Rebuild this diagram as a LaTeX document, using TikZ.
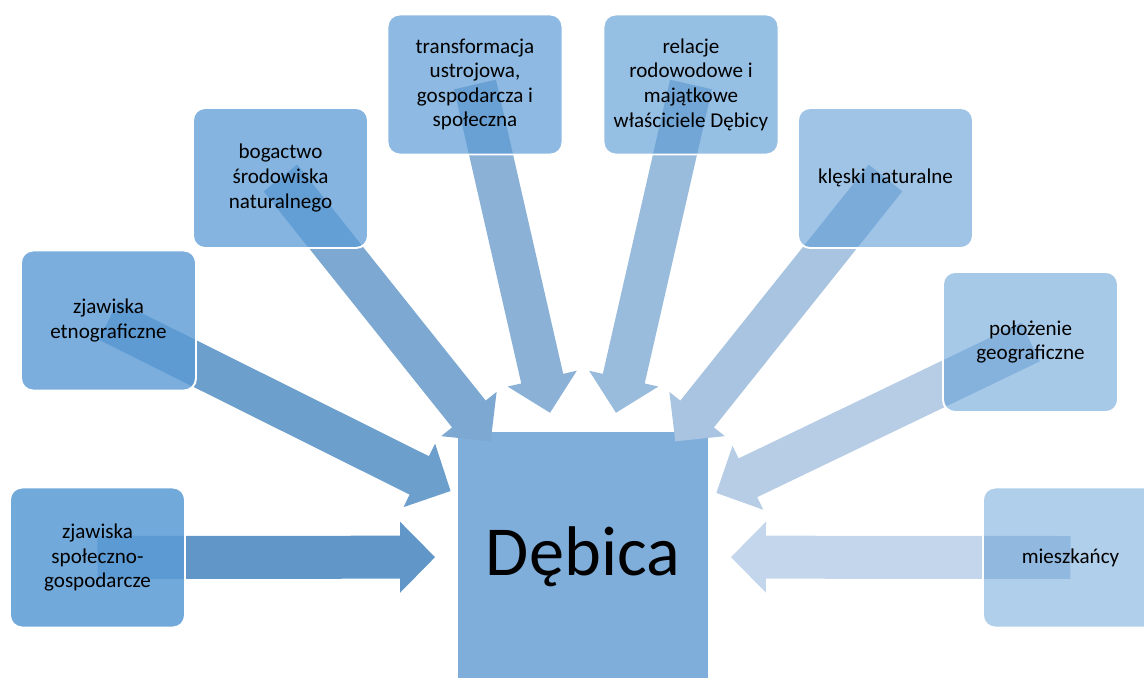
\documentclass[tikz,border=0pt]{standalone}
\usepackage{fontspec}
\setmainfont{Carlito}
\usetikzlibrary{calc}
\pgfdeclarelayer{bg}
\pgfdeclarelayer{mid}
\pgfsetlayers{bg,mid,main}
\definecolor{accent}{HTML}{5B9BD5}
\definecolor{centerfill}{HTML}{7FAEDB}
\definecolor{a1}{RGB}{97,150,200}
\definecolor{a2}{RGB}{109,159,205}
\definecolor{a3}{RGB}{124,168,210}
\definecolor{a4}{RGB}{139,177,215}
\definecolor{a5}{RGB}{153,187,220}
\definecolor{a6}{RGB}{168,196,225}
\definecolor{a7}{RGB}{183,205,230}
\definecolor{a8}{RGB}{196,214,235}
\newcommand\blockarrow[2]{%
  \path ($(deb.center)!2.96cm!(#1.center)$) coordinate (T)
        ($(T)!0.7cm!(#1.center)$) coordinate (H);
  \fill[#2] ($(#1.center)!0.43cm!-90:(H)$) -- ($(H)!0.43cm!90:(#1.center)$)
     -- ($(H)!0.71cm!90:(#1.center)$) -- (T) -- ($(H)!0.71cm!-90:(#1.center)$)
     -- ($(H)!0.43cm!-90:(#1.center)$) -- ($(#1.center)!0.43cm!90:(H)$) -- cycle;
}
\begin{document}
\begin{tikzpicture}[x=0.02cm,y=-0.02cm,
  box/.style={draw=white, line width=1.1pt, rounded corners=0.24cm, fill=accent,
    minimum width=3.5cm, minimum height=2.8cm, align=center,
    font=\fontsize{12}{14}\selectfont, text=black, text opacity=1, inner sep=0pt},
]
\useasboundingbox (0,0) rectangle (1144,677);
\begin{pgfonlayer}{bg}
\node[fill=centerfill, minimum width=5cm, minimum height=5cm, inner sep=0pt,
  font=\fontsize{40}{48}\selectfont] (deb) at (583,557) {Dębica};
\end{pgfonlayer}
\node[box, fill opacity=0.86] (b1) at (97.5,557.5) {zjawiska\\społeczno-\\gospodarcze};
\node[box, fill opacity=0.806] (b2) at (108.5,320.5) {zjawiska\\etnograficzne};
\node[box, fill opacity=0.752] (b3) at (280.5,178) {bogactwo\\środowiska\\naturalnego};
\node[box, fill opacity=0.698] (b4) at (475,84.5) {transformacja\\ustrojowa,\\gospodarcza i\\społeczna};
\node[box, fill opacity=0.644] (b5) at (691,84.5) {relacje\\rodowodowe i\\majątkowe\\właściciele Dębicy};
\node[box, fill opacity=0.59] (b6) at (885.5,178) {klęski naturalne};
\node[box, fill opacity=0.536] (b7) at (1030.5,342) {położenie\\geograficzne};
\node[box, fill opacity=0.482] (b8) at (1070.5,557.5) {mieszkańcy};
\begin{pgfonlayer}{mid}
\blockarrow{b1}{a1}
\blockarrow{b2}{a2}
\blockarrow{b3}{a3}
\blockarrow{b4}{a4}
\blockarrow{b5}{a5}
\blockarrow{b6}{a6}
\blockarrow{b7}{a7}
\blockarrow{b8}{a8}
\end{pgfonlayer}
\end{tikzpicture}
\end{document}
